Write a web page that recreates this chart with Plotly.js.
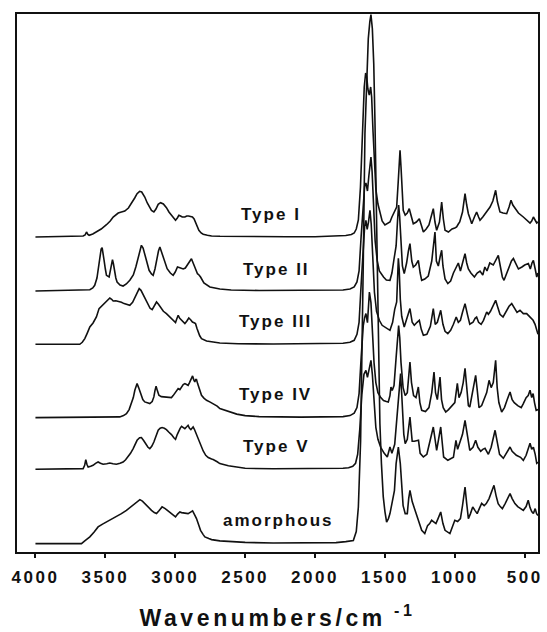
<!DOCTYPE html>
<html>
<head>
<meta charset="utf-8">
<script src="https://cdn.plot.ly/plotly-3.0.1.min.js"></script>
<style>
  html, body { margin: 0; padding: 0; background: #ffffff; }
  #chart { width: 547px; height: 632px; }
  .xtick text { letter-spacing: 2.5px; }
  .xtitle { letter-spacing: 3.6px; }
  .annotation-text { letter-spacing: 2px; }
</style>
</head>
<body>
<div id="chart"></div>
<script>
// FT-IR spectra of the five crystal forms and the amorphous form.
// Each spectrum: wavenumber (cm-1) and absorbance above its own baseline (arbitrary units).

const names = ["Type I", "Type II", "Type III", "Type IV", "Type V", "amorphous"];

// vertical stacking of the spectra (arbitrary units)
const stackOffset = [315, 261, 207.7, 134.4, 82.7, 8.4];

const wnTypeI = [4000,3700,3659,3645,3635,3625,3616,3590,3564,3530,3492,3465,3444,3420,3408,3385,3361,3335,3313,3290,3273,3255,3240,3218,3200,3187,3170,3153,3138,3122,3105,3085,3063,3045,3027,3010,2998,2985,2974,2962,2950,2931,2918,2905,2890,2877,2865,2855,2843,2831,2815,2800,2770,2740,2680,2500,2200,2000,1850,1780,1740,1720,1705,1690,1675,1660,1648,1638,1630,1622,1612,1602,1595,1585,1575,1565,1550,1536,1520,1500,1480,1464,1450,1430,1416,1405,1398,1392,1385,1377,1369,1355,1340,1326,1310,1297,1275,1254,1240,1225,1205,1185,1170,1154,1142,1130,1110,1094,1082,1070,1046,1020,1000,987,975,965,945,927,915,903,890,879,860,844,830,820,800,784,765,748,728,708,695,677,655,629,612,598,585,569,545,510,485,462,450,438,426,414,405];
const absTypeI = [0,0.5,1,2,5,2.5,1.7,3,5,8,12.3,16,20,23,24,25,26,29,33.3,39,43.3,45.7,45,40,34,30,26.5,25,28,32.7,34.3,33,29.3,25,21.7,18,16.7,19,21.7,21,20,20,21,21,20.5,20,18,15,10,6.7,4,2.7,1.8,1,0.7,0.3,0.2,0.3,0.8,1.5,2.5,4,8,17,50,110,150,164,160,148,142,150,140,105,70,48,33,24,16,12,14,15,20,27,30,55,80,86.7,70,40,26.7,22,24,28.3,20,13.3,15,18.3,12,5,8,12,20,28.3,15,6.7,15,35,18,6.7,5,8,9,10,13,15,25,43.3,32,23.3,18,13.3,20,25,20,16.7,20,23.3,26,30,36,46.7,35,25,24,23.3,30,36.7,32,28.3,24,20,17,14,16,20,17,14,15];

const wnTypeII = [4000,3700,3611,3590,3576,3560,3552,3540,3530,3523,3515,3509,3500,3492,3473,3461,3455,3449,3442,3435,3425,3416,3395,3373,3350,3325,3300,3282,3270,3258,3242,3230,3218,3200,3187,3170,3158,3145,3134,3120,3110,3098,3087,3072,3058,3035,3015,3000,2984,2967,2955,2943,2928,2915,2900,2884,2872,2860,2841,2830,2819,2795,2770,2752,2681,2600,2400,2000,1800,1750,1720,1700,1685,1670,1655,1645,1636,1625,1615,1605,1600,1592,1582,1570,1555,1540,1510,1490,1464,1450,1435,1420,1410,1402,1395,1385,1375,1362,1345,1332,1321,1308,1297,1280,1261,1248,1237,1215,1190,1165,1150,1142,1132,1118,1104,1094,1085,1070,1050,1030,1010,990,975,960,945,927,915,903,885,860,840,820,800,785,770,750,725,705,689,675,660,648,630,610,595,581,565,545,520,500,474,460,448,438,425,414,405];
const absTypeII = [0,0.5,1.3,3,5.7,13,20.7,33,42,43.3,38,30.7,22,15.7,14,24,29,31.3,27,20.7,13,9,6,5,7,10.7,16,24,31,39,45.7,43,37.3,27,20.7,17,15.7,22,30.7,40,44,39,32.3,27,22.3,18,15.7,19,24,23.3,22.5,22,23,25.7,30,32.3,28,24,17.3,16,14,8,5.5,4,2,1,0.5,0.5,1,2,4,9,20,55,90,105,108,100,115,130,134,120,85,50,30,20,14,11,10.7,18,32,45,70,86,75,45,25,17.4,28,40,47.4,30,24,26,30.7,18,10.7,12,15,30,50,59,30,25,35,40.7,25,12,7.4,10,18,24,28,20,28,37.4,28,22,18,14,18,20,16,24,20,28,26,32,35.7,25,14,10.7,18,25,30,32.4,28,22,24,26,27.4,22,28,30.7,22,14,18];

const wnTypeIII = [4000,3683,3665,3647,3630,3611,3588,3564,3545,3528,3510,3497,3480,3468,3455,3444,3425,3408,3385,3366,3345,3325,3305,3289,3270,3258,3245,3230,3210,3194,3180,3165,3150,3134,3120,3106,3085,3063,3045,3027,3010,2998,2990,2979,2968,2955,2942,2931,2918,2903,2890,2877,2865,2855,2845,2836,2825,2812,2790,2776,2681,2550,2300,2000,1800,1750,1720,1700,1685,1670,1655,1645,1636,1627,1618,1607,1598,1588,1575,1560,1540,1520,1500,1480,1464,1445,1430,1416,1408,1404,1398,1390,1380,1362,1345,1321,1305,1290,1270,1254,1240,1225,1200,1175,1154,1140,1125,1101,1085,1070,1050,1030,1010,990,975,960,945,927,910,893,870,855,844,830,812,795,772,760,745,730,708,695,677,655,635,612,593,575,555,534,510,486,460,440,426,415,405];
const absTypeIII = [0,0,2,5.7,11,17.3,21.3,27.3,35.7,38,40,42.3,45,46.3,45,43.3,43.5,43,42,40.7,39.5,39,42,47.3,53,55.7,54,50,44,39,36,34.7,38,42.3,40,36.7,33,30.7,28,25.7,23,21.7,25,29,26,24,22,20.7,23,26.3,24.5,22.3,21.5,20.7,16,12.3,8.5,5.7,4,3.3,1.3,0.6,0.3,0.3,1,2,4,10,22,60,100,118,124,115,122,134,120,85,52,33,24,19,17.3,15,14,22,35,42.3,70,86,75,45,28,17.3,25,35.7,22,19,22,24,15,9,10,18,35.7,20,22,34,20,13,10.7,14,20,27.3,22,24,32,40.7,30,20,22,26,27.3,22,20,24,32.3,30,33,38,44,38,30,27.3,32,38,40.7,36,32,34,30.7,30.7,27.3,24,20,14,10];

const wnTypeIV = [4000,3600,3397,3370,3349,3330,3313,3300,3289,3280,3273,3262,3246,3232,3218,3200,3182,3165,3153,3145,3137,3128,3117,3100,3086,3060,3027,3015,3003,2990,2979,2967,2955,2943,2931,2920,2908,2898,2888,2876,2868,2860,2854,2848,2840,2831,2820,2812,2795,2776,2750,2729,2700,2681,2650,2620,2560,2500,2400,2100,1800,1750,1720,1700,1685,1670,1655,1645,1636,1625,1618,1611,1600,1590,1578,1565,1550,1530,1510,1490,1476,1464,1457,1448,1435,1420,1410,1402,1394,1385,1370,1355,1340,1330,1321,1310,1295,1278,1261,1250,1237,1210,1185,1165,1149,1138,1125,1106,1095,1083,1065,1045,1020,1000,982,970,955,940,927,915,903,893,875,862,851,840,827,808,790,772,755,740,725,708,697,685,665,645,625,605,590,575,550,525,510,490,475,462,450,440,430,418,405];
const absTypeIV = [0,0.3,0.7,2,4,8,14,20,27.3,32,34,30,22.3,18,15.7,14.5,14,16,20.7,27,31.3,27,22.3,21,20.7,20.3,20,22,24,27,29,28,30.7,33,34,33,32.3,35,39,41.7,38,35.7,38,38,34,30.7,26,22.3,19.5,17.3,15.5,14,11.5,9,7.5,6,3.5,2,1,0.5,1,2,4.5,10,24,60,92,100,104,95,112,125.6,115,85,55,35,25,20,17,16,15.6,22,30.6,27,32,60,85,92,80,55,30,22,25,40,55.6,35,22,20,30.6,15,7.3,6,10,25,45.6,25,18,40.6,18,10,5.6,8,12,15,34.3,20,25,35,49.3,30,12,10.6,25,35,42.3,28,10,12,18,25,37.3,30,35,57.3,30,15,5.6,10,18,25.6,18,15,12,10,14,20,22,27.3,20,24,15,7.3,8];

const wnTypeV = [4000,3780,3754,3740,3659,3648,3640,3632,3623,3605,3588,3570,3552,3535,3516,3490,3468,3445,3421,3395,3373,3355,3337,3320,3301,3287,3273,3255,3242,3225,3211,3195,3182,3168,3153,3138,3122,3108,3094,3078,3063,3045,3027,3010,2998,2985,2974,2965,2955,2943,2931,2918,2908,2898,2888,2880,2872,2863,2855,2842,2829,2815,2800,2782,2764,2740,2729,2700,2681,2620,2560,2500,2300,2000,1800,1760,1730,1710,1695,1680,1665,1650,1636,1625,1612,1600,1590,1578,1565,1550,1530,1505,1483,1464,1450,1430,1416,1400,1388,1378,1365,1355,1340,1321,1305,1290,1260,1248,1225,1200,1175,1154,1130,1115,1101,1080,1050,1010,992,980,960,945,927,910,893,870,851,835,815,800,784,760,740,712,700,680,653,630,605,590,560,530,510,490,475,462,450,438,425,414,405];
const absTypeV = [0,0.3,1,0.3,0.7,4,9.7,5,2.3,3,4,6,7.3,6,5,5.5,6.3,5.5,5,6,7.3,9.5,12.3,16,20.7,25,29,31.5,31.7,28.5,25,22,20.7,23,27.3,33,39,41,41.7,41,39.7,37,34.7,31.5,30,35,39,41,43,42,40.7,42.5,44,41,39.7,41,42.3,40,37.3,32,27.3,22.5,18.3,14,11.7,10.2,9.7,7.5,5.7,3.5,2,1,0.5,0.5,1,1.5,3,6,15,40,75,95,99,92,100,109,95,65,42,30,22,16,12.3,22.3,16,25,46,75,95.7,70,35,25.7,30,52.3,28,28,29,16,12.3,15,30,42.3,19,30,42.3,12.3,9,12,29,20,29,35,49,35,19,22,29,22,18,20,21,15,22,39,30,15,11,16,22.3,18,14,12,9,14,20,26,20,22,15,6,7];

const wnAmorphous = [4000,3671,3645,3611,3580,3552,3520,3492,3455,3421,3385,3349,3320,3289,3270,3253,3235,3218,3195,3170,3150,3134,3115,3094,3072,3051,3025,2998,2983,2967,2955,2939,2925,2908,2890,2876,2862,2848,2832,2819,2800,2788,2760,2740,2681,2600,2500,2300,2000,1850,1780,1726,1705,1690,1674,1662,1655,1643,1630,1619,1608,1600,1590,1580,1571,1560,1548,1536,1525,1512,1500,1488,1475,1464,1450,1432,1420,1404,1390,1380,1370,1355,1340,1330,1321,1305,1290,1265,1237,1215,1195,1180,1166,1135,1120,1101,1085,1070,1035,1000,980,960,945,927,915,903,888,872,855,840,825,808,790,775,755,735,720,705,690,675,660,640,620,605,590,570,550,530,510,490,475,462,450,438,425,415,405];
const absAmorphous = [0,0,3,6.7,11.5,16.7,19.5,21.7,24,26.7,30,33.3,36.5,40,42.5,44,42.5,40,36,33.3,31,30,33,36.7,35,32.7,29.5,26.7,29.5,31.7,31,30.7,30,30,31.5,32.7,29,25,18.5,13.3,9,6.7,5,4,2.7,1.8,1.2,0.6,0.5,1,2,3,12,36.6,103,203,280,410,470,505,522,529,515,480,420,330,200,120,80,47,32,21.6,25,30,40,53,80,96.6,80,60,38,30,30,45,53.3,42,35,25,13.3,10,18,20,23.3,20,25,31.6,20,13.3,10,23.3,22,25,38,56.6,40,25,30,36.6,33,30,35,40.3,38,40,45,52,58.3,48,40,37,35,40,45,50,45,40,37,35,33.3,37,43.3,36,32,30,35,30,28];

const wavenumbers = [wnTypeI, wnTypeII, wnTypeIII, wnTypeIV, wnTypeV, wnAmorphous];
const absorbance = [absTypeI, absTypeII, absTypeIII, absTypeIV, absTypeV, absAmorphous];

const tickValues = [4000, 3500, 3000, 2500, 2000, 1500, 1000, 500];

const traces = names.map((name, i) => ({
  type: "scatter",
  mode: "lines",
  name: name,
  x: wavenumbers[i],
  y: absorbance[i].map(v => v + stackOffset[i]),
  line: { color: "#111111", width: 1.6 },
  hoverinfo: "skip",
  showlegend: false
}));

// label for each spectrum, placed in the empty 2200-2350 cm-1 gap
const labelX = [2315, 2279, 2286, 2286, 2279, 2261];
const labelY = [337.7, 282.7, 230.7, 157.7, 105.7, 31.7];
const annotations = names.map((name, i) => ({
  text: "<b>" + name + "</b>",
  x: labelX[i], y: labelY[i], xref: "x", yref: "y",
  showarrow: false, xanchor: "center", yanchor: "middle",
  font: { family: "Liberation Sans, Arial, sans-serif", size: 17, color: "#111111" }
}));

const xRange = [4132, 405];

const layout = {
  width: 547,
  height: 632,
  margin: { l: 17, r: 9, t: 14, b: 80 },
  paper_bgcolor: "#ffffff",
  plot_bgcolor: "#ffffff",
  font: { family: "Liberation Sans, Arial, sans-serif", color: "#111111" },
  showlegend: false,
  xaxis: {
    range: xRange,
    autorange: false,
    tickmode: "array",
    tickvals: tickValues,
    ticktext: tickValues.map(String),
    ticks: "outside",
    ticklen: 4,
    tickwidth: 2,
    tickcolor: "#111111",
    ticklabelstandoff: 5,
    tickfont: { family: "Liberation Sans, Arial, sans-serif", size: 17, color: "#111111", weight: "bold" },
    showline: true,
    linecolor: "#111111",
    linewidth: 2,
    mirror: true,
    showgrid: false,
    zeroline: false,
    title: {
      text: "<b>Wavenumbers/cm<sup> -1</sup></b>",
      font: { family: "Liberation Sans, Arial, sans-serif", size: 23, color: "#111111" },
      standoff: 23
    }
  },
  xaxis2: {
    range: xRange,
    autorange: false,
    overlaying: "x",
    side: "bottom",
    tickmode: "array",
    tickvals: tickValues,
    ticks: "inside",
    ticklen: 4,
    tickwidth: 2,
    tickcolor: "#111111",
    showticklabels: false,
    showline: false,
    showgrid: false,
    zeroline: false
  },
  yaxis: {
    range: [0, 538],
    autorange: false,
    showticklabels: false,
    ticks: "",
    showline: true,
    linecolor: "#111111",
    linewidth: 2,
    mirror: true,
    showgrid: false,
    zeroline: false
  },
  annotations: annotations
};

Plotly.newPlot("chart", traces, layout, { staticPlot: true, displayModeBar: false });
</script>
</body>
</html>
